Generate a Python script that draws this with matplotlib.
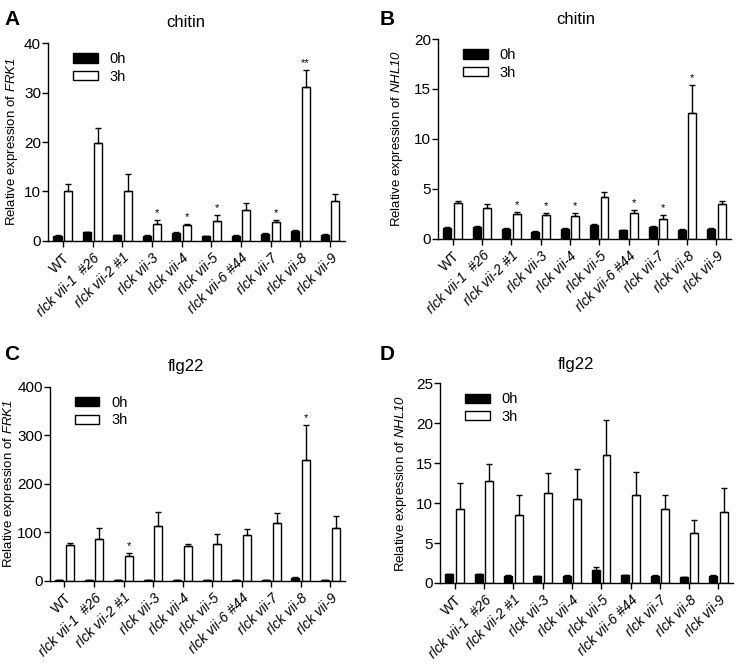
import numpy as np
import matplotlib
matplotlib.use('Agg')
import matplotlib.pyplot as plt
from matplotlib.patches import Patch

plt.rcParams['font.family'] = ['Liberation Sans', 'DejaVu Sans']
# only the gene names are mathtext, all of it italic (digits too)
plt.rcParams['mathtext.fontset'] = 'custom'
plt.rcParams['mathtext.rm'] = 'Liberation Sans:italic'
plt.rcParams['mathtext.it'] = 'Liberation Sans:italic'

# lines shown on the x axis
lines = ['WT', 'rlck vii-1  #26', 'rlck vii-2 #1', 'rlck vii-3', 'rlck vii-4',
         'rlck vii-5', 'rlck vii-6 #44', 'rlck vii-7', 'rlck vii-8', 'rlck vii-9']

# A: chitin, FRK1
a_0h = [1.1, 1.8, 1.2, 1.1, 1.7, 1.0, 1.1, 1.5, 2.1, 1.3]
a_0h_err = [0.1, 0.1, 0.1, 0.1, 0.2, 0.1, 0.1, 0.1, 0.1, 0.1]
a_3h = [10.0, 19.8, 10.0, 3.45, 3.3, 4.1, 6.2, 3.8, 31.2, 8.0]
a_3h_err = [1.5, 3.0, 3.5, 0.85, 0.15, 1.1, 1.55, 0.5, 3.3, 1.5]
a_sig = ['', '', '', '*', '*', '*', '', '*', '**', '']

# B: chitin, NHL10
b_0h = [1.1, 1.2, 1.0, 0.7, 1.0, 1.4, 0.85, 1.2, 0.9, 1.0]
b_0h_err = [0.05, 0.05, 0.05, 0.05, 0.05, 0.05, 0.05, 0.05, 0.05, 0.05]
b_3h = [3.6, 3.05, 2.5, 2.4, 2.25, 4.2, 2.6, 1.95, 12.6, 3.45]
b_3h_err = [0.2, 0.4, 0.2, 0.15, 0.3, 0.5, 0.25, 0.4, 2.8, 0.35]
b_sig = ['', '', '*', '*', '*', '', '*', '*', '*', '']

# C: flg22, FRK1
c_0h = [1.5, 1.5, 1.5, 1.5, 1.5, 1.5, 1.5, 2.5, 7.0, 1.5]
c_0h_err = [0.3, 0.3, 0.3, 0.3, 0.3, 0.3, 0.3, 0.3, 1.0, 0.3]
c_3h = [74, 86, 52, 114, 71, 76, 94, 120, 248, 108]
c_3h_err = [4, 22, 5, 27, 5, 21, 12, 19, 72, 26]
c_sig = ['', '', '*', '', '', '', '', '', '*', '']

# D: flg22, NHL10
d_0h = [1.1, 1.1, 0.9, 0.85, 0.9, 1.65, 1.0, 0.9, 0.75, 0.9]
d_0h_err = [0.05, 0.05, 0.05, 0.05, 0.05, 0.3, 0.05, 0.05, 0.05, 0.05]
d_3h = [9.3, 12.8, 8.5, 11.2, 10.5, 16.0, 11.0, 9.3, 6.2, 8.9]
d_3h_err = [3.2, 2.1, 2.5, 2.55, 3.75, 4.4, 2.9, 1.65, 1.7, 3.0]
d_sig = [''] * 10

panels = [
    ('A', 'chitin', 'FRK1', a_0h, a_0h_err, a_3h, a_3h_err, a_sig, [0, 10, 20, 30, 40],
     [0.0647, 0.6387, 0.400, 0.2968]),
    ('B', 'chitin', 'NHL10', b_0h, b_0h_err, b_3h, b_3h_err, b_sig, [0, 5, 10, 15, 20],
     [0.5903, 0.6420, 0.3950, 0.2995]),
    ('C', 'flg22', 'FRK1', c_0h, c_0h_err, c_3h, c_3h_err, c_sig, [0, 100, 200, 300, 400],
     [0.0670, 0.1290, 0.3980, 0.2915]),
    ('D', 'flg22', 'NHL10', d_0h, d_0h_err, d_3h, d_3h_err, d_sig, [0, 5, 10, 15, 20, 25],
     [0.5930, 0.1260, 0.3950, 0.2995]),
]

letter_pos = {'A': (0.006, 0.985), 'B': (0.512, 0.985), 'C': (0.006, 0.483), 'D': (0.512, 0.483)}
title_pos = {'A': (0.25, 0.977), 'B': (0.776, 0.982), 'C': (0.25, 0.462), 'D': (0.776, 0.465)}
ylabel_x = {'A': 0.016, 'B': 0.535, 'C': 0.012, 'D': 0.540}

fig = plt.figure(figsize=(7.42, 6.67), dpi=100)
x = np.arange(len(lines))
w = 0.27
off = 0.18

for letter, title, gene, v0, e0, v3, e3, sig, yt, rect in panels:
    ax = fig.add_axes(rect)
    ax.bar(x - off, v0, w, color='black', edgecolor='black', linewidth=1.0,
           yerr=[np.zeros(len(e0)), e0], capsize=2, error_kw=dict(elinewidth=1, capthick=1, ecolor='black'))
    ax.bar(x + off, v3, w, color='white', edgecolor='black', linewidth=1.0,
           yerr=[np.zeros(len(e3)), e3], capsize=2, error_kw=dict(elinewidth=1, capthick=1, ecolor='black'))
    ymax = yt[-1]
    for i, s in enumerate(sig):
        if s:
            ax.text(x[i] + off, v3[i] + e3[i] + ymax * 0.01, s, ha='center', va='bottom', fontsize=8)
    ax.set_xlim(-0.5, 9.5)
    ax.set_ylim(0, ymax)
    ax.set_yticks(yt)
    ax.set_xticks(x)
    ax.set_xticklabels(lines, rotation=45, ha='right', rotation_mode='anchor', fontsize=10)
    for lab in ax.get_xticklabels():
        if lab.get_text() != 'WT':
            lab.set_style('italic')
    ax.tick_params(axis='y', labelsize=11, length=4, width=1, pad=1)
    ax.tick_params(axis='x', length=4, width=1, pad=3)
    ax.spines['top'].set_visible(False)
    ax.spines['right'].set_visible(False)
    ax.spines['left'].set_linewidth(1)
    ax.spines['bottom'].set_linewidth(1)
    ax.set_ylabel('Relative expression of $\\mathit{' + gene + '}$', fontsize=9.5)
    ax.yaxis.set_label_coords(ylabel_x[letter], rect[1] + rect[3] / 2, transform=fig.transFigure)
    ax.yaxis.label.set_verticalalignment('center')
    handles = [Patch(facecolor='black', edgecolor='black'),
               Patch(facecolor='white', edgecolor='black')]
    ax.legend(handles, ['0h', '3h'], loc='upper left', bbox_to_anchor=(0.04, 1.02),
              frameon=False, fontsize=10.5, handlelength=1.7, handleheight=0.6,
              labelspacing=0.25, handletextpad=0.8)
    lx, ly = letter_pos[letter]
    fig.text(lx, ly, letter, fontsize=15, fontweight='bold', ha='left', va='top')
    tx, ty = title_pos[letter]
    fig.text(tx, ty, title, fontsize=12, ha='center', va='top')

fig.savefig('out.png', dpi=100)
